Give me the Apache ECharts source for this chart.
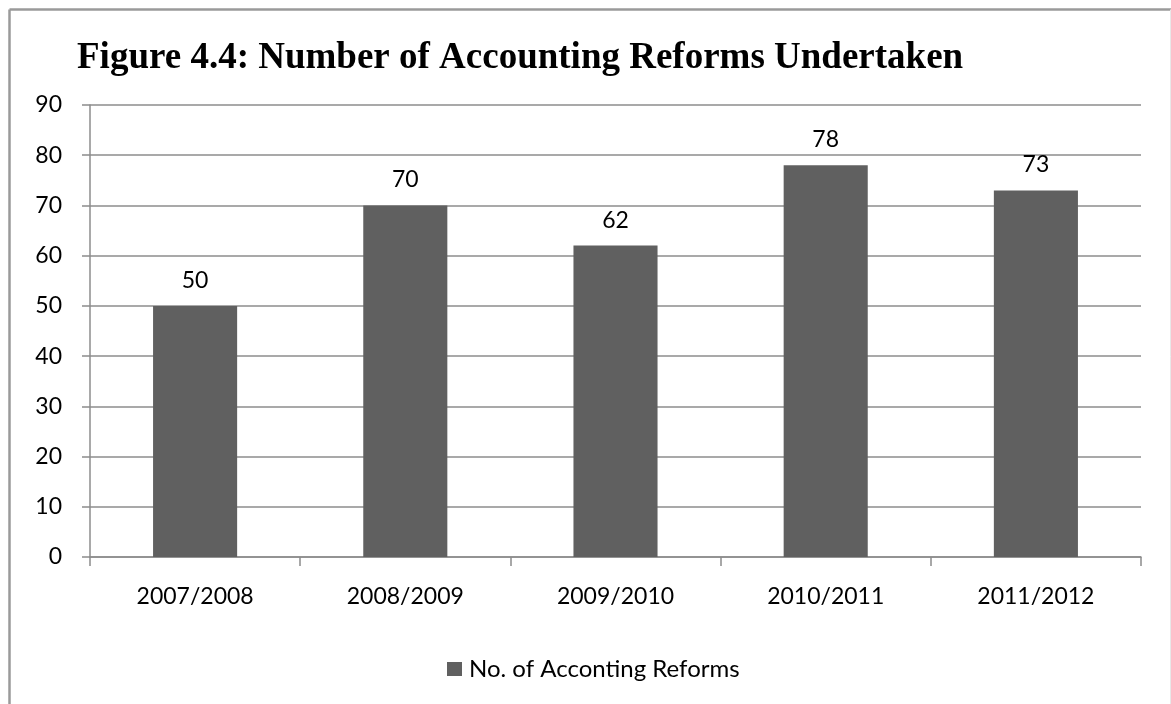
<!DOCTYPE html>
<html>
<head>
<meta charset="utf-8">
<script src="https://cdn.jsdelivr.net/npm/echarts@6/dist/echarts.min.js"></script>
<style>
  html, body { margin: 0; padding: 0; background: #fff; }
  #chart { width: 1171px; height: 704px; }
</style>
</head>
<body>
<div id="chart"></div>
<script>
// Fiscal years and number of accounting reforms undertaken in each
const years = ['2007/2008', '2008/2009', '2009/2010', '2010/2011', '2011/2012'];
const reforms = [50, 70, 62, 78, 73];
const seriesName = 'No. of Acconting Reforms';
const titleText = 'Figure 4.4: Number of Accounting Reforms Undertaken';

const labelFont = 'Lato, "Open Sans", sans-serif';
const gridGray = '#8c8c8c';

const chart = echarts.init(document.getElementById('chart'), null, { renderer: 'canvas' });
chart.setOption({
  animation: false,
  backgroundColor: '#fff',
  title: {
    text: titleText,
    left: 72,
    top: 35,
    textStyle: {
      fontFamily: '"Liberation Serif", "Times New Roman", serif',
      fontWeight: 'bold',
      fontSize: 37,
      color: '#000'
    }
  },
  // outer frame of the chart area
  graphic: [
    { type: 'line', shape: { x1: 9.5, y1: 9.5, x2: 9.5, y2: 704 }, style: { stroke: '#9a9a9a', lineWidth: 2.5 } },
    { type: 'line', shape: { x1: 9.5, y1: 9.5, x2: 1171, y2: 9.5 }, style: { stroke: '#9a9a9a', lineWidth: 2.5 } },
    { type: 'line', shape: { x1: 1170.5, y1: 9.5, x2: 1170.5, y2: 704 }, style: { stroke: '#e8e8e8', lineWidth: 1 } }
  ],
  legend: {
    data: [seriesName],
    left: 442,
    top: 652,
    icon: 'rect',
    itemWidth: 15,
    itemHeight: 14,
    textStyle: { fontFamily: labelFont, fontSize: 24, color: '#000', padding: [0, 0, 0, 2] }
  },
  grid: { left: 90, right: 30, top: 105, bottom: 147, containLabel: false },
  xAxis: {
    type: 'category',
    data: years,
    axisLine: { lineStyle: { color: gridGray, width: 1.5 } },
    axisTick: { show: true, length: 9, alignWithLabel: false, lineStyle: { color: gridGray, width: 1.5 } },
    axisLabel: { margin: 28, fontFamily: labelFont, fontSize: 23, color: '#000' }
  },
  yAxis: {
    type: 'value',
    min: 0,
    max: 90,
    interval: 10,
    axisLine: { show: true, lineStyle: { color: gridGray, width: 1.5 } },
    axisTick: { show: true, length: 8, lineStyle: { color: gridGray, width: 1.5 } },
    axisLabel: { margin: 28, fontFamily: labelFont, fontSize: 23, color: '#000' },
    splitLine: { show: true, lineStyle: { color: gridGray, width: 1.5 } }
  },
  series: [{
    name: seriesName,
    type: 'bar',
    data: reforms,
    barWidth: '40%',
    itemStyle: { color: '#606060' },
    label: {
      show: true,
      position: 'top',
      distance: 14,
      fontFamily: labelFont,
      fontSize: 23,
      color: '#000'
    }
  }]
});
</script>
</body>
</html>
